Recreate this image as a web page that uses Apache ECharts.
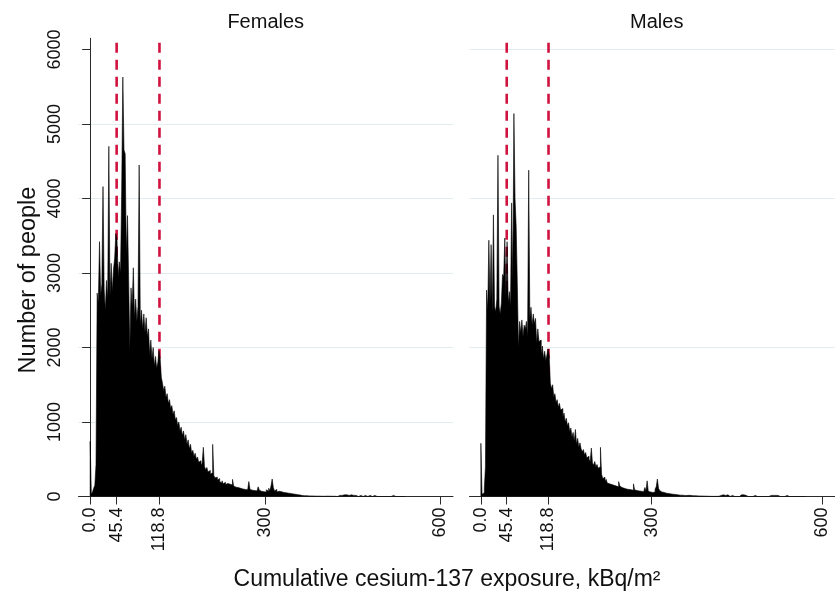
<!DOCTYPE html>
<html>
<head>
<meta charset="utf-8">
<script src="https://cdn.jsdelivr.net/npm/echarts@6/dist/echarts.min.js"></script>
<style>
html,body{margin:0;padding:0;background:#fff;}
#chart{width:835px;height:598px;}
</style>
</head>
<body>
<div id="chart"></div>
<script>
// ---- data ----
const panelTitles = ['Females', 'Males'];
const binStart = 0;
const binWidth = 2; // kBq/m2 per bin
const femaleCounts = [
  740, 30, 60, 110, 150, 430, 2730, 2600, 3420, 2700,
  2850, 4160, 2780, 2500, 2900, 2650, 4700, 2680, 3130, 2750,
  3050, 3200, 3530, 3450, 2950, 3150, 3000, 4090, 5630, 4650,
  4600, 3250, 3770, 2900, 1970, 2800, 2550, 3070, 2400, 2650,
  2350, 2550, 4450, 2300, 2500, 2250, 2450, 2200, 2400, 2150,
  2250, 1900, 2100, 1850, 2000, 1750, 1880, 1720, 1800, 1960,
  1850, 1600, 1520, 1420, 1480, 1330, 1380, 1250, 1300, 1180,
  1220, 1100, 1150, 1030, 1060, 950, 1000, 880, 930, 820,
  880, 760, 830, 700, 760, 640, 700, 580, 620, 540,
  580, 500, 530, 460, 480, 420, 450, 660, 400, 360,
  390, 330, 350, 300, 320, 700, 280, 250, 260, 220,
  240, 200, 180, 210, 170, 190, 160, 175, 150, 165,
  140, 155, 230, 140, 125, 150, 120, 135, 110, 125,
  100, 120, 95, 110, 90, 115, 200, 95, 85, 105,
  80, 100, 75, 90, 130, 85, 70, 95, 65, 80,
  60, 90, 70, 110, 80, 140, 235, 120, 75, 95,
  60, 70, 50, 65, 45, 55, 40, 50, 35, 45,
  30, 40, 25, 35, 20, 30, 20, 25, 15, 20,
  15, 12, 18, 10, 14, 10, 12, 8, 10, 8,
  10, 6, 8, 5, 7, 5, 6, 4, 5, 3,
  4, 4, 3, 5, 3, 4, 2, 3, 2, 3,
  15, 0, 22, 15, 22, 15, 15, 22, 15, 22,
  22, 15, 15, 22, 15, 15, 22, 15, 15, 0,
  15, 15, 0, 0, 0, 15, 0, 0, 0, 15,
  0, 0, 0, 15, 0, 0, 15, 0, 0, 0,
  0, 0, 0, 0, 0, 0, 0, 0, 22, 15,
  15, 0, 0, 0, 0, 0, 0, 0, 15, 0
];
const maleCounts = [
  714, 30, 50, 100, 400, 2770, 2500, 3440, 2600, 3380,
  2450, 3780, 2550, 2480, 2650, 4580, 2550, 2450, 2600, 2980,
  2950, 3470, 2700, 3420, 2600, 2750, 2550, 3940, 2900, 5140,
  4000, 3620, 2850, 1990, 2350, 2200, 2370, 2150, 2300, 2250,
  2350, 2140, 4380, 2400, 2540, 2300, 2450, 2320, 2390, 2060,
  2250, 2080, 2100, 1900, 2020, 1850, 1950, 1830, 1900, 1980,
  1890, 1520, 1450, 1500, 1340, 1380, 1260, 1300, 1200, 1250,
  1160, 1180, 1070, 1120, 1000, 1050, 950, 990, 870, 920,
  800, 860, 740, 900, 700, 780, 660, 720, 640, 600,
  630, 560, 590, 520, 540, 500, 470, 650, 450, 420,
  470, 400, 430, 380, 400, 660, 300, 240, 260, 200,
  230, 180, 170, 190, 160, 175, 150, 165, 140, 155,
  130, 200, 140, 120, 135, 110, 125, 100, 115, 95,
  110, 90, 105, 85, 170, 90, 80, 100, 75, 95,
  70, 85, 65, 80, 120, 75, 210, 70, 60, 80,
  55, 75, 60, 100, 130, 235, 110, 80, 60, 70,
  55, 65, 45, 60, 40, 50, 35, 45, 30, 40,
  28, 35, 22, 30, 18, 25, 18, 22, 14, 18,
  14, 10, 16, 9, 12, 9, 10, 7, 9, 7,
  8, 5, 7, 4, 6, 4, 5, 3, 4, 3,
  3, 4, 2, 3, 2, 3, 2, 2, 3, 2,
  15, 15, 22, 0, 15, 15, 22, 15, 0, 15,
  15, 15, 0, 15, 0, 0, 0, 15, 22, 15,
  22, 15, 15, 0, 0, 0, 0, 0, 0, 15,
  15, 15, 0, 0, 0, 0, 0, 0, 0, 0,
  0, 0, 0, 0, 15, 15, 15, 0, 15, 15,
  15, 0, 0, 15, 0, 0, 0, 0, 15, 0,
  0, 0, 0, 0, 0, 0, 0, 0, 0, 0,
  0, 0, 0, 15, 0
];
const xTickValues = [0, 45.4, 118.8, 300, 600];
const xTickLabels = ['0.0', '45.4', '118.8', '300', '600'];
const yTickValues = [0, 1000, 2000, 3000, 4000, 5000, 6000];
const refLines = [45.4, 118.8];
const refLineTop = 6090;
const xTitle = 'Cumulative cesium-137 exposure, kBq/m\u00B2';
const yTitle = 'Number of people';

// ---- layout / style ----
const FONT = '"Liberation Sans", Arial, Helvetica, sans-serif';
const GRID_TOP = 38.3, GRID_H = 458.2, GRID_W = 374.5;
const GRID_LEFTS = [78.5, 469.5];
const X_MIN = -20, X_MAX = 622, Y_MAX = 6150;
const AXIS_COLOR = '#2b2b2b';
const GRID_COLOR = '#e2ebee';
const RED = '#d0123f';

// step outline of the histogram built from the bin counts
function toStepPoints(counts) {
  const pts = [[binStart, 0]];
  counts.forEach((c, i) => {
    const x0 = binStart + i * binWidth;
    pts.push([x0, c], [x0 + binWidth, c]);
  });
  pts.push([binStart + counts.length * binWidth, 0]);
  return pts;
}
const histData = [toStepPoints(femaleCounts), toStepPoints(maleCounts)];

const grids = GRID_LEFTS.map(l => ({ left: l, top: GRID_TOP, width: GRID_W, height: GRID_H, containLabel: false }));

const xAxes = GRID_LEFTS.map((l, k) => ({
  type: 'value', gridIndex: k, min: X_MIN, max: X_MAX,
  axisLine: { show: true, onZero: false, lineStyle: { color: AXIS_COLOR, width: 1 } },
  axisTick: { show: true, length: 8, customValues: xTickValues, lineStyle: { color: AXIS_COLOR, width: 1 } },
  axisLabel: {
    customValues: xTickValues, rotate: 90, margin: 11,
    fontSize: 18, fontFamily: FONT, color: '#111',
    formatter: v => { const j = xTickValues.indexOf(v); return j >= 0 ? xTickLabels[j] : ''; }
  },
  splitLine: { show: false }
}));

const yAxes = [
  {
    type: 'value', gridIndex: 0, min: 0, max: Y_MAX, interval: 1000,
    axisLine: { show: true, lineStyle: { color: AXIS_COLOR, width: 1 } },
    axisTick: { show: true, length: 8, customValues: yTickValues, lineStyle: { color: AXIS_COLOR, width: 1 } },
    axisLabel: {
      customValues: yTickValues, rotate: 90, margin: 14, fontSize: 18, fontFamily: FONT, color: '#111',
      formatter: v => String(v)
    },
    splitLine: { show: true, showMaxLine: false, showMinLine: false, lineStyle: { color: GRID_COLOR, width: 1.2 } }
  },
  {
    type: 'value', gridIndex: 1, min: 0, max: Y_MAX, interval: 2000,
    axisLine: { show: false }, axisTick: { show: false }, axisLabel: { show: false },
    splitLine: { show: true, showMaxLine: false, showMinLine: false, lineStyle: { color: GRID_COLOR, width: 1.2 } }
  }
];

const series = [];
[0, 1].forEach(k => {
  refLines.forEach(v => {
    series.push({
      type: 'line', xAxisIndex: k, yAxisIndex: k, z: 1, silent: true,
      symbol: 'none', animation: false,
      data: [[v, refLineTop], [v, 0]],
      lineStyle: { color: RED, width: 2.6, type: [10, 7] }
    });
  });
  series.push({
    type: 'line', xAxisIndex: k, yAxisIndex: k, z: 3, silent: true, animation: false,
    symbol: 'none', showSymbol: false, smooth: false,
    data: histData[k],
    lineStyle: { color: '#000', width: 0.6, join: 'miter' },
    areaStyle: { color: '#000', opacity: 1 }
  });
});

const graphics = [];
panelTitles.forEach((t, k) => {
  graphics.push({
    type: 'text', x: GRID_LEFTS[k] + GRID_W / 2, y: 22, silent: true,
    style: { text: t, font: '20px ' + FONT, fill: '#111', textAlign: 'center', textVerticalAlign: 'middle' }
  });
});
graphics.push({
  type: 'text', x: 447, y: 580, silent: true,
  style: { text: xTitle, font: '23px ' + FONT, fill: '#111', textAlign: 'center', textVerticalAlign: 'middle' }
});
graphics.push({
  type: 'text', x: 29, y: 280, rotation: Math.PI / 2, silent: true,
  style: { text: yTitle, font: '23.5px ' + FONT, fill: '#111', textAlign: 'center', textVerticalAlign: 'middle' }
});

const chart = echarts.init(document.getElementById('chart'), null, { renderer: 'canvas' });
chart.setOption({
  backgroundColor: '#fff',
  animation: false,
  grid: grids,
  xAxis: xAxes,
  yAxis: yAxes,
  series: series,
  graphic: graphics
});
</script>
</body>
</html>
